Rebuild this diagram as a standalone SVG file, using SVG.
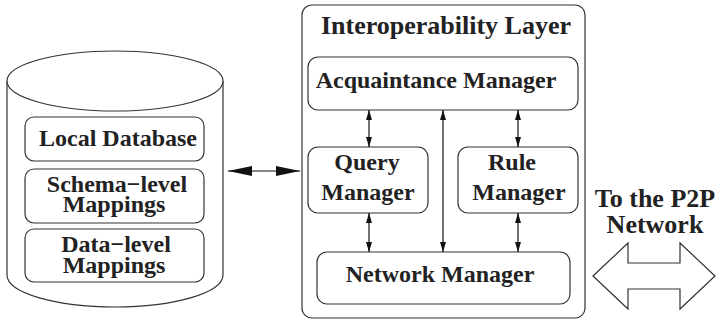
<svg xmlns="http://www.w3.org/2000/svg" width="720" height="321" viewBox="0 0 720 321">
<style>
.box{fill:#fff;stroke:#333;stroke-width:1.2}
.t{font-family:"Liberation Serif","Times New Roman",serif;font-weight:bold;font-size:24px;fill:#222;text-anchor:middle}
.big{font-size:26px}
.ln{stroke:#111;stroke-width:1.2;fill:none}
</style>
<defs>
<marker id="ah" viewBox="0 0 10 6" refX="10" refY="3" markerWidth="10" markerHeight="6" markerUnits="userSpaceOnUse" orient="auto-start-reverse">
<path d="M0,0 L10,3 L0,6 Z" fill="#111"/>
</marker>
<marker id="bh" viewBox="0 0 24 10" refX="24" refY="5" markerWidth="24" markerHeight="10" markerUnits="userSpaceOnUse" orient="auto-start-reverse">
<path d="M0,0 L24,5 L0,10 Z" fill="#111"/>
</marker>
</defs>
<g id="database">
<path class="box" d="M7,81 L7,275 A108,32 0 0 0 223,275 L223,81"/>
<ellipse class="box" cx="115" cy="81" rx="108" ry="30"/>
</g>
<g id="local-database">
<rect class="box" x="25" y="117" width="179" height="44" rx="9"/>
<text class="t" x="118" y="146">Local Database</text>
</g>
<g id="schema-mappings">
<rect class="box" x="25" y="169" width="179" height="54" rx="9"/>
<text class="t" x="117" y="192">Schema−level</text>
<text class="t" x="114" y="212">Mappings</text>
</g>
<g id="data-mappings">
<rect class="box" x="25" y="229" width="179" height="53" rx="9"/>
<text class="t" x="116" y="252">Data−level</text>
<text class="t" x="114" y="273">Mappings</text>
</g>
<g id="interoperability-layer">
<rect class="box" x="302" y="5" width="283" height="313" rx="10"/>
<text class="t big" x="446" y="34">Interoperability Layer</text>
</g>
<g id="acquaintance-manager">
<rect class="box" x="308" y="57" width="270" height="53" rx="10"/>
<text class="t" x="436" y="88">Acquaintance Manager</text>
</g>
<g id="query-manager">
<rect class="box" x="308" y="147" width="120" height="66" rx="10"/>
<text class="t" x="367" y="170">Query</text>
<text class="t" x="368" y="200">Manager</text>
</g>
<g id="rule-manager">
<rect class="box" x="458" y="147" width="120" height="66" rx="10"/>
<text class="t" x="512" y="170">Rule</text>
<text class="t" x="519" y="200">Manager</text>
</g>
<g id="network-manager">
<rect class="box" x="317" y="252" width="253" height="52" rx="10"/>
<text class="t" x="440" y="282">Network Manager</text>
</g>
<g id="p2p-network">
<text class="t big" x="655" y="207">To the P2P</text>
<text class="t big" x="655" y="233">Network</text>
<polygon class="box" points="593,276 628,243 628,263 680,263 680,243 715,276 680,309 680,289 628,289 628,309"/>
</g>
<g id="connectors">
<line class="ln" x1="228" y1="171" x2="300" y2="171" marker-start="url(#bh)" marker-end="url(#bh)"/>
<line class="ln" x1="369" y1="110" x2="369" y2="147" marker-start="url(#ah)" marker-end="url(#ah)"/>
<line class="ln" x1="518" y1="110" x2="518" y2="147" marker-start="url(#ah)" marker-end="url(#ah)"/>
<line class="ln" x1="443" y1="110" x2="443" y2="252" marker-start="url(#ah)" marker-end="url(#ah)"/>
<line class="ln" x1="369" y1="213" x2="369" y2="252" marker-start="url(#ah)" marker-end="url(#ah)"/>
<line class="ln" x1="518" y1="213" x2="518" y2="252" marker-start="url(#ah)" marker-end="url(#ah)"/>
</g>
</svg>
